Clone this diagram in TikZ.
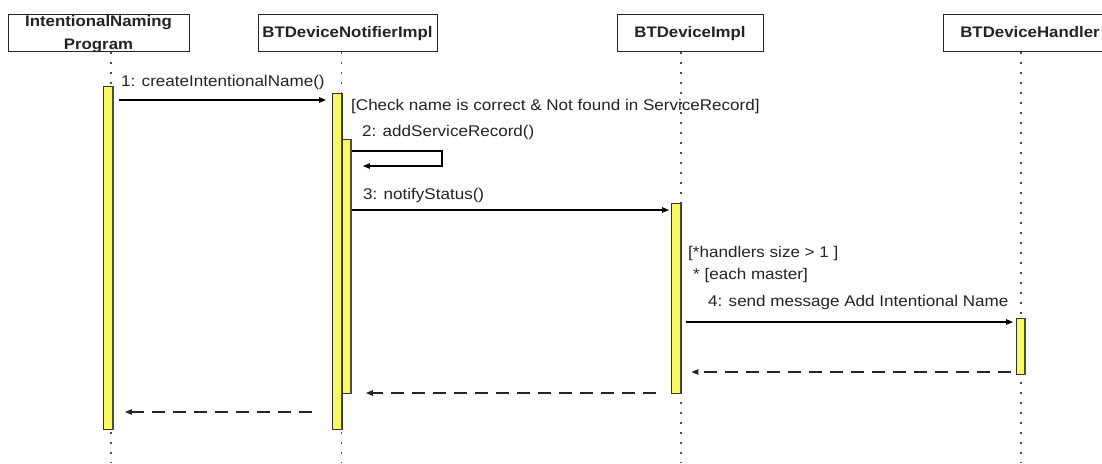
\documentclass[tikz,border=0pt]{standalone}
\usepackage{fontspec}
\setmainfont{Liberation Sans}[FakeStretch=1.1]
\usetikzlibrary{arrows.meta}
\definecolor{barfill}{RGB}{250,250,95}
\definecolor{ink}{RGB}{35,35,35}
\begin{document}
\begin{tikzpicture}[x=1pt,y=-1pt,
  font=\fontsize{15.5}{18}\selectfont,
  obj/.style={draw=black!85, line width=1.3pt, fill=white, inner sep=0pt, anchor=north west},
  title/.style={font=\fontsize{15.3}{18}\selectfont\bfseries, text=ink, inner sep=0pt, anchor=base},
  life/.style={draw=black!70, line width=1.2pt, dash pattern=on 1.2pt off 8.8pt},
  act/.style={draw=black!80, fill=barfill, line width=0.9pt, inner sep=0pt, anchor=north west},
  actedge/.style={draw=black!70, line width=1.3pt},
  msg/.style={draw=black, line width=1.1pt, -{Triangle[length=7pt,width=5.5pt]}},
  ret/.style={msg, draw=black!85, dash pattern=on 13pt off 8pt},
  lbl/.style={anchor=base west, inner sep=0pt, text=ink}]
\useasboundingbox (0,0) rectangle (1102,463);

% object boxes
\node[obj, minimum width=181pt, minimum height=37pt] (o1) at (8,14) {};
\node[obj, minimum width=179pt, minimum height=37pt] (o2) at (258,14) {};
\node[obj, minimum width=146pt, minimum height=37pt] (o3) at (617,14) {};
\node[obj, minimum width=165pt, minimum height=37pt] (o4) at (943,14) {};
\node[title] (t1a) at (98.5,26) {IntentionalNaming};
\node[title] (t1b) at (98.5,49) {Program};
\node[title] (t2) at (347.5,37.5) {BTDeviceNotifierImpl};
\node[title] (t3) at (690,37.5) {BTDeviceImpl};
\node[title] (t4) at (1030,37.5) {BTDeviceHandler};

% lifelines
\coordinate (l1) at (111,463);
\coordinate (l2) at (341.5,463);
\coordinate (l3) at (681,463);
\coordinate (l4) at (1021,463);
\draw[life] (o1.south -| l1) -- (l1);
\draw[life] (o2.south -| l2) -- (l2);
\draw[life] (o3.south -| l3) -- (l3);
\draw[life] (o4.south -| l4) -- (l4);

% activation bars, with a darker right edge
\node[act, minimum width=10pt, minimum height=343pt] (a1) at (103,86) {};
\node[act, minimum width=9.5pt, minimum height=336pt] (a2) at (332,93) {};
\node[act, minimum width=9pt, minimum height=254pt] (a2b) at (342,139) {};
\node[act, minimum width=9.5pt, minimum height=190pt] (a3) at (671,203) {};
\node[act, minimum width=9pt, minimum height=56pt] (a4) at (1016,318) {};
\foreach \b in {a1,a2,a2b,a3,a4}
  \draw[actedge] ([xshift=-1pt]\b.north east) -- ([xshift=-1pt]\b.south east);

% messages
\draw[msg] ([xshift=5pt]a1.east |- 0,100) -- ([xshift=-6pt]a2.west |- 0,100);
\node[lbl] (m1) at (121,86) {1: createIntentionalName()};
\node[lbl] (g1) at (351,110) {[Check name is correct \& Not found in ServiceRecord]};
\node[lbl] (m2) at (362,136) {2: addServiceRecord()};
\coordinate (selfr) at (442,151);
\draw[msg] (a2b.east |- selfr) -- (selfr) -- (selfr |- 0,166) -- ([xshift=11pt]a2b.east |- 0,166);
\node[lbl] (m3) at (363,199) {3: notifyStatus()};
\draw[msg] (a2b.east |- 0,210) -- ([xshift=-2pt]a3.west |- 0,210);
\node[lbl] (g2) at (688,257) {[*handlers size > 1 ]};
\node[lbl] (g3) at (693,279) {* [each master]};
\node[lbl] (m4) at (708,306) {4: send message Add Intentional Name};
\draw[msg] ([xshift=5pt]a3.east |- 0,322) -- ([xshift=-3pt]a4.west |- 0,322);

% returns
\draw[ret] ([xshift=-5pt]a4.west |- 0,372) -- ([xshift=10pt]a3.east |- 0,372);
\draw[ret] ([xshift=-15pt]a3.west |- 0,393) -- ([xshift=14pt]a2b.east |- 0,393);
\draw[ret] ([xshift=-20pt]a2.west |- 0,412) -- ([xshift=11pt]a1.east |- 0,412);
\end{tikzpicture}
\end{document}
